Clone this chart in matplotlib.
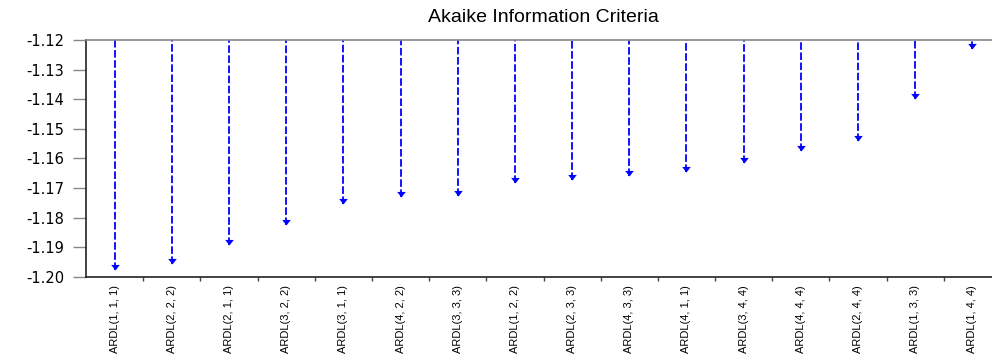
import matplotlib
matplotlib.use("Agg")
from matplotlib import pyplot as plt
from matplotlib.ticker import FixedLocator, MultipleLocator, NullFormatter
import numpy as np

# Modelos ARDL ordenados pelo critério de Akaike (top 16)
modelos = ["ARDL(1, 1, 1)", "ARDL(2, 2, 2)", "ARDL(2, 1, 1)", "ARDL(3, 2, 2)",
           "ARDL(3, 1, 1)", "ARDL(4, 2, 2)", "ARDL(3, 3, 3)", "ARDL(1, 2, 2)",
           "ARDL(2, 3, 3)", "ARDL(4, 3, 3)", "ARDL(4, 1, 1)", "ARDL(3, 4, 4)",
           "ARDL(4, 4, 4)", "ARDL(2, 4, 4)", "ARDL(1, 3, 3)", "ARDL(1, 4, 4)"]
aic = [-1.1977, -1.1955, -1.1893, -1.1823,
       -1.1752, -1.1729, -1.1726, -1.1682,
       -1.1673, -1.1659, -1.1645, -1.1616,
       -1.1576, -1.1542, -1.1398, -1.1229]
y_topo = -1.12
y_base = -1.20

fig = plt.figure(figsize=(9.92, 3.59), dpi=100)
ax = fig.add_axes([86/992, 82/359, 915/992, 237/359])

x = np.arange(len(modelos))
# hastes tracejadas saindo do topo do eixo até o valor
ax.vlines(x, aic, y_topo, colors="#0000ff", linewidth=1.3,
          linestyles=(0, (4.2, 1.4)))
# ponta da seta com o vértice exatamente no valor
seta = [(-1, 1.3), (1, 1.3), (0, 0)]
ax.plot(x, aic, linestyle="none", marker=seta, markersize=8,
        color="#0000ff", markeredgewidth=0)

ax.set_xlim(-0.5, len(modelos) - 0.5)
ax.set_ylim(y_base, y_topo)

# eixo y
ax.yaxis.set_major_locator(MultipleLocator(0.01))
ax.yaxis.set_major_formatter(plt.FuncFormatter(lambda v, p: "%.2f" % v))
ax.tick_params(axis="y", direction="out", length=9.5, width=1.0,
               color="#888888", pad=6, labelsize=10.5)
for t in ax.get_yticklabels():
    t.set_family("DejaVu Sans")

# eixo x: marcas entre as categorias, rótulos no centro
ax.xaxis.set_major_locator(FixedLocator(x))
ax.set_xticklabels(modelos, rotation=90, fontsize=8,
                   family=["Liberation Sans", "DejaVu Sans"])
ax.tick_params(axis="x", which="major", length=0, pad=6)
ax.xaxis.set_minor_locator(FixedLocator(x[1:] - 0.5))
ax.xaxis.set_minor_formatter(NullFormatter())
ax.tick_params(axis="x", which="minor", direction="out", length=3,
               width=1.0, color="#444444")

for lado in ["left", "bottom"]:
    ax.spines[lado].set_color("#222222")
    ax.spines[lado].set_linewidth(1.2)
ax.spines["top"].set_color("#888888")
ax.spines["top"].set_linewidth(1.2)
ax.spines["right"].set_visible(False)

ax.set_title("Akaike Information Criteria", fontsize=14,
             family=["Liberation Sans", "DejaVu Sans"], pad=13)

fig.savefig("out.png", dpi=100)
